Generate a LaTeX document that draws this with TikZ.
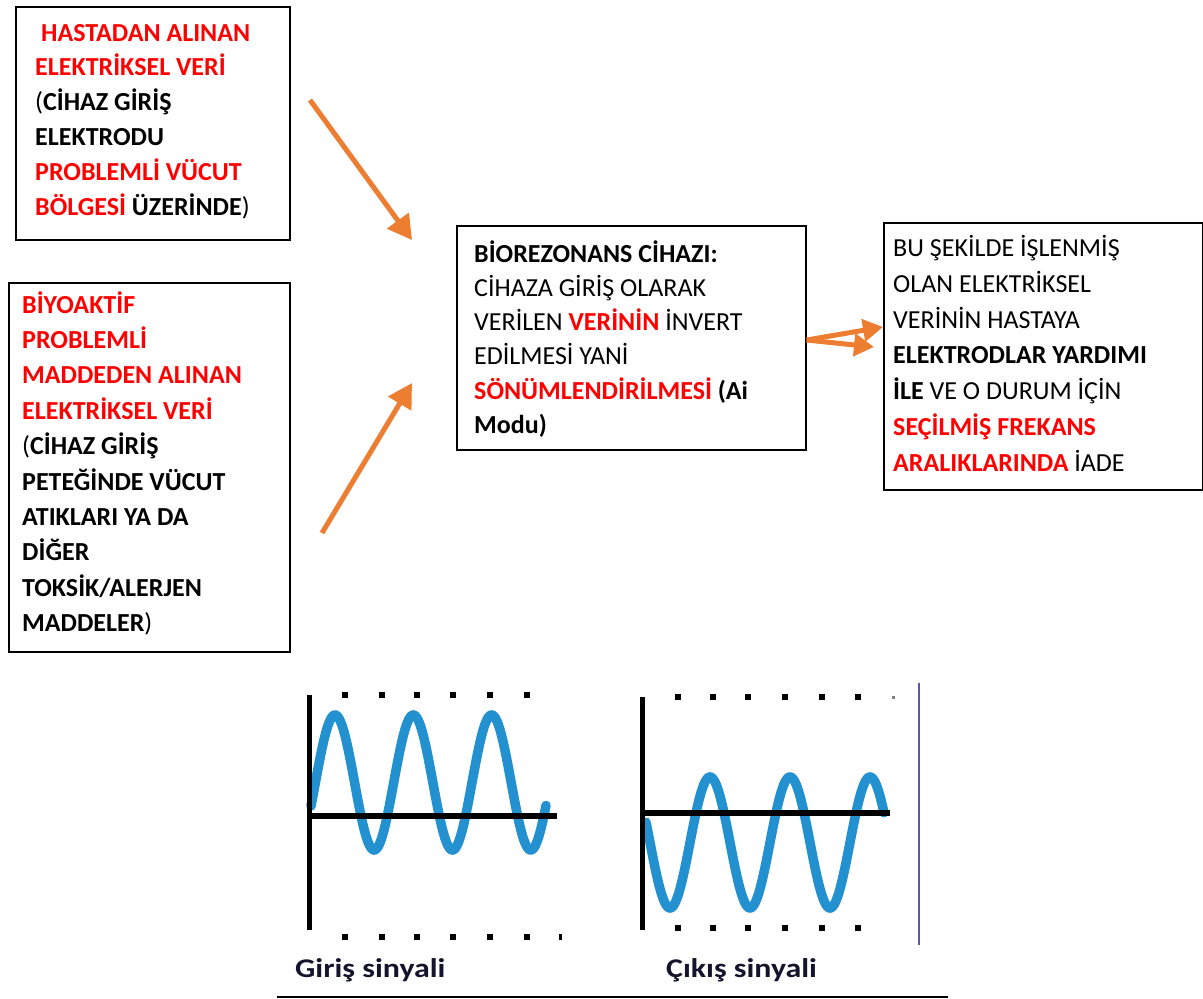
\documentclass[tikz,border=0pt]{standalone}
\usepackage{fontspec}
\setmainfont{Carlito}
\usetikzlibrary{arrows.meta}
\definecolor{myred}{RGB}{255,0,0}
\definecolor{myorange}{RGB}{237,125,49}
\definecolor{myblue}{RGB}{35,145,208}
\definecolor{mydark}{RGB}{20,20,45}
\newcommand{\R}[1]{\textcolor{myred}{\textbf{#1}}}
\begin{document}
\begin{tikzpicture}[x=1pt,y=-1pt,
  box/.style={draw=black,line width=1.6pt,rectangle,anchor=north west,inner sep=0pt},
  txt/.style={anchor=west,align=left,inner sep=0pt},
  oarrow/.style={draw=myorange,line width=5pt,-{Triangle[length=24pt,width=26pt]}},
  axisline/.style={line width=5pt,black},
  wave/.style={myblue,line width=9.5pt,line cap=round},
  sq/.style={fill=black,minimum size=6.5pt,inner sep=0pt,draw=none,rectangle},
  lbl/.style={anchor=west,font=\fontsize{27}{30}\selectfont\bfseries,text=mydark,inner sep=0pt}]
\useasboundingbox (0,0) rectangle (1203,999);
\fill[white] (0,0) rectangle (1203,999);

% boxes
\node[box,minimum width=274pt,minimum height=233pt] (b1) at (15,6) {};
\node[box,minimum width=281pt,minimum height=369pt] (b2) at (8,282) {};
\node[box,minimum width=349pt,minimum height=224pt] (b3) at (456,225) {};
\node[box,minimum width=319pt,minimum height=267pt] (b4) at (883,222) {};

\node[txt,font=\fontsize{26}{34.8}\selectfont] (t1) at ([xshift=20pt,yshift=2pt]b1.west)
{\hspace*{6pt}\R{HASTADAN ALINAN}\\
\R{ELEKTRİKSEL VERİ}\\
(\textbf{CİHAZ GİRİŞ}\\
\textbf{ELEKTRODU}\\
\R{PROBLEMLİ VÜCUT}\\
\R{BÖLGESİ} \textbf{ÜZERİNDE})};

\node[txt,font=\fontsize{26}{35.4}\selectfont] (t2) at ([xshift=14pt,yshift=4pt]b2.west)
{\R{BİYOAKTİF}\\
\R{PROBLEMLİ}\\
\R{MADDEDEN ALINAN}\\
\R{ELEKTRİKSEL VERİ}\\
(\textbf{CİHAZ GİRİŞ}\\
\textbf{PETEĞİNDE VÜCUT}\\
\textbf{ATIKLARI YA DA}\\
\textbf{DİĞER}\\
\textbf{TOKSİK/ALERJEN}\\
\textbf{MADDELER})};

\node[txt,font=\fontsize{26}{34.2}\selectfont] (t3) at ([xshift=18pt,yshift=-1pt]b3.west)
{\textbf{BİOREZONANS CİHAZI:}\\
CİHAZA GİRİŞ OLARAK\\
VERİLEN \R{VERİNİN} İNVERT\\
EDİLMESİ YANİ\\
\R{SÖNÜMLENDİRİLMESİ} \textbf{(Ai}\\
\textbf{Modu)}};

\node[txt,font=\fontsize{26}{35.7}\selectfont] (t4) at ([xshift=10pt,yshift=3pt]b4.west)
{BU ŞEKİLDE İŞLENMİŞ\\
OLAN ELEKTRİKSEL\\
VERİNİN HASTAYA\\
\textbf{ELEKTRODLAR YARDIMI}\\
\textbf{İLE} VE O DURUM İÇİN\\
\R{SEÇİLMİŞ FREKANS}\\
\R{ARALIKLARINDA} İADE};

% arrows
\coordinate (a1s) at (310,100);
\coordinate (a1e) at (412,240);
\coordinate (a2s) at (322,533);
\coordinate (a2e) at (412,383);
\coordinate (a3s) at (b3.east |- 0,340);
\coordinate (a3e) at (b4.west |- 0,327);
\coordinate (a4e) at (874,347);
\draw[oarrow] (a1s) -- (a1e);
\draw[oarrow] (a2s) -- (a2e);
\draw[oarrow,-{Triangle[length=20pt,width=22pt]}] (a3s) -- (a3e);
\draw[oarrow,-{Triangle[length=20pt,width=22pt]}] (a3s) -- (a4e);

% left signal panel
\draw[wave] plot[domain=311:546,samples=240] (\x,{782.5-67.5*cos(4.5977*(\x-335))});
\draw[axisline] (309,695) -- (309,930);
\draw[axisline,line width=6pt] (309,816) -- (557,816);
\foreach \xx in {345,382,417,453,490,527}{
  \node[sq] at (\xx,695) {};
  \node[sq] at (\xx,937) {};
}
\node[sq,minimum width=3pt] at (560,937) {};

% right signal panel
\draw[wave] plot[domain=646:884,samples=240] (\x,{842.5+65.5*cos(4.5*(\x-670))});
\draw[axisline] (642,697) -- (642,930);
\draw[axisline,line width=6pt] (642,813) -- (890,813);
\foreach \xx in {678,713,748,785,822,858}{
  \node[sq] at (\xx,697) {};
  \node[sq] at (\xx,928) {};
}
\node[sq,fill=gray,minimum size=3pt] at (893,697) {};
\draw[line width=1.5pt,color=gray!70!blue] (919,683) -- (919,945);

\node[lbl] (l1) at (295,970) {\scalebox{1.18}[1]{Giriş sinyali}};
\node[lbl] (l2) at (666,970) {\scalebox{1.18}[1]{Çıkış sinyali}};
\draw[line width=1.5pt] (277,997) -- (948,997);
\end{tikzpicture}
\end{document}
